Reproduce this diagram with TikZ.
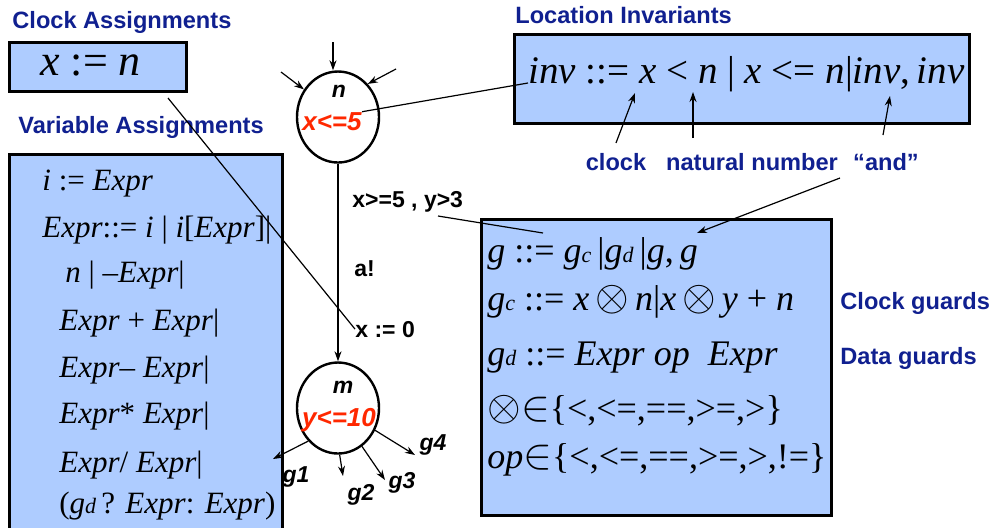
\documentclass[tikz,border=0pt]{standalone}
\usepackage{fontspec}
\setmainfont{Liberation Serif}
\setsansfont{Liberation Sans}
\usetikzlibrary{shapes.geometric,arrows.meta}

\definecolor{gramblue}{RGB}{174,204,255}
\definecolor{headblue}{RGB}{16,32,144}
\definecolor{invred}{RGB}{255,40,0}

\newcommand{\itx}[1]{\textit{#1}}
\newcommand{\gsub}[1]{{\fontsize{11}{11}\selectfont\itshape #1}}
\newcommand{\bigop}[1]{\scalebox{1.25}{$#1$}}

\begin{document}
\begin{tikzpicture}[x=0.5pt,y=-0.5pt,
    head/.style={font=\fontsize{11.8}{13}\selectfont\sffamily\bfseries,text=headblue,inner sep=0pt},
    lbl/.style={font=\fontsize{11.5}{13}\selectfont\sffamily\bfseries,inner sep=0pt},
    loclbl/.style={font=\fontsize{11.5}{13}\selectfont\sffamily\bfseries\itshape,inner sep=0pt},
    invlbl/.style={font=\fontsize{13}{15}\selectfont\sffamily\bfseries\itshape,text=invred,inner sep=0pt},
    gbox/.style={draw,line width=1.5pt,fill=gramblue,anchor=north west,inner sep=0pt},
    loc/.style={draw,ellipse,line width=1.2pt,minimum width=41pt,minimum height=45.5pt,inner sep=0pt},
    rule/.style={anchor=base west,inner sep=0pt},
    arr/.style={-{Stealth[length=5pt,width=3.5pt]},line width=0.6pt},
    thin/.style={line width=0.6pt}]
  \useasboundingbox (0,0) rectangle (996,527);

  \node[head,anchor=west] (clockhd) at (12,22) {Clock Assignments};
  \node[gbox,minimum width=88.5pt,minimum height=24.5pt] (clockbox) at (8,41) {};
  \node[rule,font=\fontsize{22}{24}\selectfont] (clockrule) at (40,75) {\itx{x} := \itx{n}};

  \node[head,anchor=west] (varhd) at (18,127) {Variable Assignments};
  \node[gbox,minimum width=136.5pt,minimum height=191pt] (varbox) at (8,153) {};
  \begin{scope}[every node/.style={rule,font=\fontsize{15.5}{17}\selectfont}]
    \node (var1) at (42,190) {\itx{i} := \itx{Expr}};
    \node (var2) at (42,237) {\itx{Expr}::= \itx{i} | \itx{i}[\itx{Expr}]|};
    \node (var3) at (65,282) {\itx{n} | \textendash\itx{Expr}|};
    \node (var4) at (59,330) {\itx{Expr} + \itx{Expr}|};
    \node (var5) at (59,377) {\itx{Expr}\textendash\ \itx{Expr}|};
    \node (var6) at (59,423) {\itx{Expr}* \itx{Expr}|};
    \node (var7) at (59,472) {\itx{Expr}/ \itx{Expr}|};
    \node (var8) at (59,513) {(\itx{g}\gsub{d}\,? \itx{Expr}: \itx{Expr})};
  \end{scope}

  \node[head,anchor=west] (invhd) at (515,15) {Location Invariants};
  \node[gbox,minimum width=227.5pt,minimum height=44.5pt] (invbox) at (513,33) {};
  \node[rule,font=\fontsize{19.5}{22}\selectfont] (invrule) at (528,83)
    {\itx{inv} ::= \itx{x} < \itx{n} | \itx{x} <= \itx{n}|\itx{inv},\,\itx{inv}};
  \node[head] (clocklbl) at (616,162) {clock};
  \node[head] (natlbl) at (752,162) {natural number};
  \node[head] (andlbl) at (886,162) {“and”};

  \node[gbox,minimum width=175pt,minimum height=148pt] (guardbox) at (480,218) {};
  \begin{scope}[every node/.style={rule,font=\fontsize{18}{20}\selectfont}]
    \node (guard1) at (487,262) {\itx{g} ::= \itx{g}\gsub{c}\,|\itx{g}\gsub{d}\,|\itx{g},\,\itx{g}};
    \node (guard2) at (487,310) {\itx{g}\gsub{c} ::= \itx{x}\,\bigop{\otimes}\,\itx{n}|\itx{x}\,\bigop{\otimes}\,\itx{y} + \itx{n}};
    \node (guard3) at (487,365) {\itx{g}\gsub{d} ::= \itx{Expr} \itx{op}\ \ \itx{Expr}};
    \node (guard4) at (487,420) {\bigop{\otimes}\bigop{\in}\{<,<=,==,>=,>\}};
    \node (guard5) at (487,468) {\itx{op}\bigop{\in}\{<,<=,==,>=,>,!=\}};
  \end{scope}
  \node[head,anchor=west] (clockg) at (840,303) {Clock guards};
  \node[head,anchor=west] (datag) at (840,358) {Data guards};

  \node[loc] (locn) at (338,117) {};
  \node[loclbl,anchor=base] (nlbl) at (339,97) {n};
  \node[invlbl,anchor=base] (ninv) at (332,130) {x<=5};
  \node[loc] (locm) at (338,408) {};
  \node[loclbl,anchor=base] (mlbl) at (343,393) {m};
  \node[invlbl,anchor=base] (minv) at (339,426) {y<=10};

  \node[lbl,anchor=base west] (guardlbl) at (352,207) {x>=5 , y>3};
  \node[lbl,anchor=base west] (synclbl) at (354,276) {a!};
  \node[lbl,anchor=base west] (resetlbl) at (355,337) {x := 0};

  \node[loclbl,anchor=base] (g1) at (296,482) {g1};
  \node[loclbl,anchor=base] (g2) at (361,500) {g2};
  \node[loclbl,anchor=base] (g3) at (402,488) {g3};
  \node[loclbl,anchor=base] (g4) at (433,450) {g4};

  \coordinate (in1) at (333,42);
  \coordinate (in2) at (281,72);
  \coordinate (in3) at (396,69);
  \draw[arr] (in1) -- (in1 |- locn.north);
  \draw[arr] (in2) -- (locn.141);
  \draw[arr] (in3) -- (locn.48);
  \draw[arr] (locn.south) -- (locm.north);

  \coordinate (out1) at (273,459);
  \coordinate (out2) at (343,476);
  \coordinate (out3) at (385,480);
  \coordinate (out4) at (415,455);
  \draw[arr] (locm.228) -- (out1);
  \draw[arr] (locm.272) -- (out2);
  \draw[arr] (locm.302) -- (out3);
  \draw[arr] (locm.329) -- (out4);

  \coordinate (clockx) at (635,93);
  \coordinate (natn) at (693,92);
  \coordinate (andc) at (890,96);
  \coordinate (natfrom) at (693,138);
  \coordinate (andfrom) at (883,135);
  \draw[arr] ([yshift=5pt]clocklbl.north) -- (clockx);
  \draw[arr] (natfrom) -- (natn);
  \draw[arr] (andfrom) -- (andc);

  \coordinate (clockfrom) at (168,98);
  \coordinate (guardfrom) at (438,216);
  \coordinate (guardto) at (543,233);
  \coordinate (andfrom2) at (840,178);
  \coordinate (ggto) at (697,233);
  \draw[thin] (ninv.north east) -- (invrule.base west);
  \draw[thin] (clockfrom) -- (resetlbl.west);
  \draw[thin] (guardfrom) -- (guardto);
  \draw[arr] (andfrom2) -- (ggto);
\end{tikzpicture}
\end{document}
